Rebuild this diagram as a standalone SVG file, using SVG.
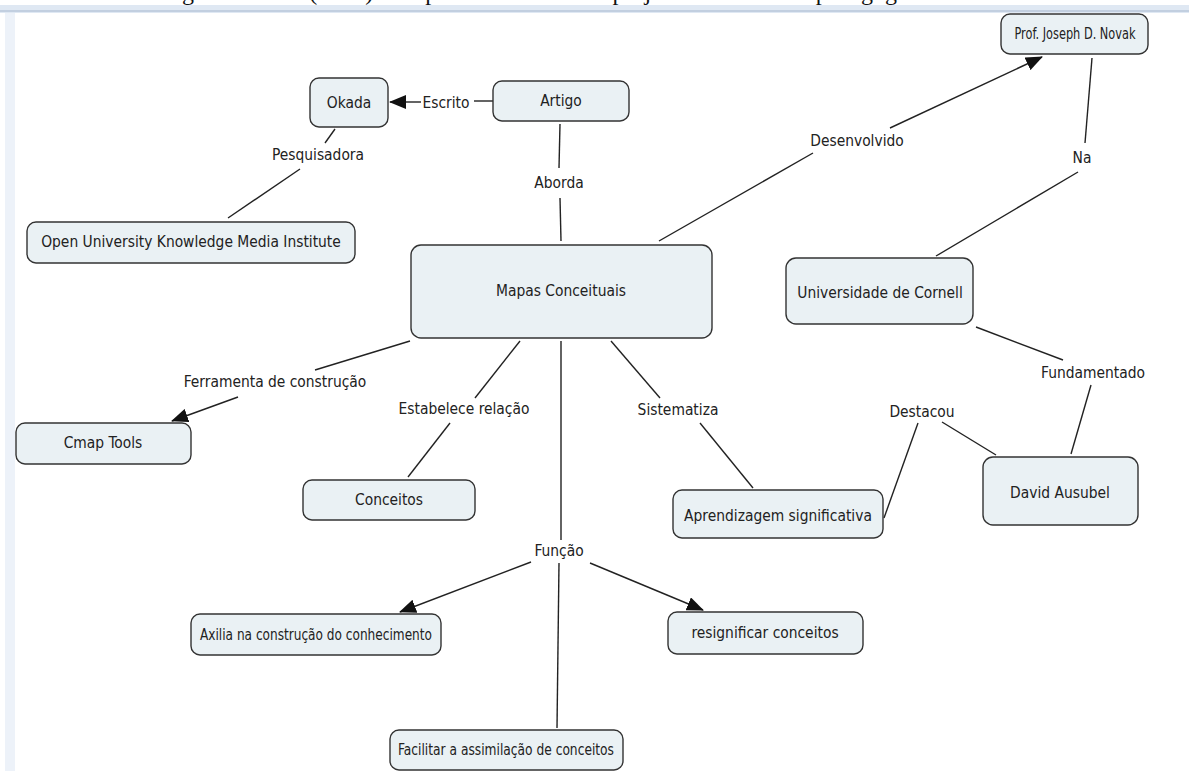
<svg xmlns="http://www.w3.org/2000/svg" width="1189" height="771" viewBox="0 0 1189 771">
<style>
.n rect{fill:#eaf1f4;stroke:#333;stroke-width:1.4}
text{font-family:"DejaVu Sans Condensed","DejaVu Sans",sans-serif;font-size:15.4px;fill:#222;text-anchor:middle}
.c line{stroke:#222;stroke-width:1.4}
.top{font-family:"Liberation Serif",serif;font-size:24px;fill:#111;text-anchor:start}
</style>
<defs>
<marker id="ah" markerUnits="userSpaceOnUse" markerWidth="18" markerHeight="14" refX="16" refY="7" orient="auto">
<path d="M0,0 L17,7 L0,14 z" fill="#111"/>
</marker>
</defs>
<rect width="1189" height="771" fill="#fff"/>
<text class="top" x="30" y="0">referente ao artigo de Okada (2008) - Mapas conceituais em projetos e atividades pedagógicas</text>
<rect x="0" y="5" width="1189" height="8" fill="#dfe8f3"/>
<line x1="0" y1="11" x2="1189" y2="11" stroke="#b9c7da" stroke-width="1.5"/>
<rect x="5" y="13" width="10" height="758" fill="#edf2f9"/>

<g class="c">
<line x1="493" y1="101" x2="474" y2="101"/>
<line x1="421" y1="102" x2="390" y2="102" marker-end="url(#ah)"/>
<line x1="335" y1="129" x2="325" y2="143"/>
<line x1="300" y1="169" x2="228" y2="218"/>
<line x1="560" y1="124" x2="559" y2="168"/>
<line x1="560" y1="198" x2="561" y2="241"/>
<line x1="659" y1="241" x2="813" y2="153"/>
<line x1="890" y1="128" x2="1042" y2="57" marker-end="url(#ah)"/>
<line x1="1092" y1="58" x2="1085" y2="143"/>
<line x1="1078" y1="172" x2="936" y2="256"/>
<line x1="976" y1="327" x2="1063" y2="360"/>
<line x1="1091" y1="385" x2="1071" y2="454"/>
<line x1="996" y1="455" x2="942" y2="422"/>
<line x1="918" y1="423" x2="884" y2="518"/>
<line x1="410" y1="341" x2="315" y2="370"/>
<line x1="238" y1="397" x2="172" y2="421" marker-end="url(#ah)"/>
<line x1="520" y1="341" x2="475" y2="398"/>
<line x1="450" y1="423" x2="408" y2="477"/>
<line x1="611" y1="341" x2="660" y2="398"/>
<line x1="700" y1="423" x2="753" y2="488"/>
<line x1="561" y1="341" x2="561" y2="540"/>
<line x1="531" y1="562" x2="400" y2="612" marker-end="url(#ah)"/>
<line x1="590" y1="563" x2="703" y2="610" marker-end="url(#ah)"/>
<line x1="559" y1="563" x2="557" y2="728"/>
<text x="446" y="108">Escrito</text>
<text x="318" y="160">Pesquisadora</text>
<text x="559" y="188">Aborda</text>
<text x="857" y="146">Desenvolvido</text>
<text x="1082" y="163">Na</text>
<text x="1093" y="378">Fundamentado</text>
<text x="922" y="417">Destacou</text>
<text x="275" y="387">Ferramenta de construção</text>
<text x="464" y="414">Estabelece relação</text>
<text x="678" y="415">Sistematiza</text>
<text x="559" y="556">Função</text>
</g>

<g id="novak" class="n"><rect x="1001" y="14" width="147" height="40" rx="9"/><text x="1075" y="39" textLength="121" lengthAdjust="spacingAndGlyphs">Prof. Joseph D. Novak</text></g>
<g id="okada" class="n"><rect x="310" y="78" width="78" height="49" rx="9"/><text x="349" y="108">Okada</text></g>
<g id="artigo" class="n"><rect x="493" y="81" width="136" height="40" rx="9"/><text x="561" y="106">Artigo</text></g>
<g id="open" class="n"><rect x="27" y="222" width="328" height="41" rx="9"/><text x="191" y="247">Open University Knowledge Media Institute</text></g>
<g id="mapas" class="n"><rect x="411" y="245" width="301" height="93" rx="10"/><text x="561" y="296">Mapas Conceituais</text></g>
<g id="cornell" class="n"><rect x="786" y="258" width="187" height="66" rx="10"/><text x="880" y="298">Universidade de Cornell</text></g>
<g id="cmap" class="n"><rect x="16" y="423" width="175" height="41" rx="9"/><text x="103" y="448">Cmap Tools</text></g>
<g id="conceitos" class="n"><rect x="303" y="480" width="172" height="40" rx="9"/><text x="389" y="505">Conceitos</text></g>
<g id="aprendizagem" class="n"><rect x="673" y="490" width="210" height="48" rx="9"/><text x="778" y="521">Aprendizagem significativa</text></g>
<g id="david" class="n"><rect x="983" y="457" width="155" height="68" rx="10"/><text x="1060" y="498">David Ausubel</text></g>
<g id="axilia" class="n"><rect x="191" y="614" width="250" height="41" rx="9"/><text x="316" y="640" textLength="232" lengthAdjust="spacingAndGlyphs">Axilia na construção do conhecimento</text></g>
<g id="resignificar" class="n"><rect x="668" y="612" width="195" height="42" rx="9"/><text x="765" y="638">resignificar conceitos</text></g>
<g id="facilitar" class="n"><rect x="390" y="730" width="233" height="40" rx="9"/><text x="506" y="755" textLength="216" lengthAdjust="spacingAndGlyphs">Facilitar a assimilação de conceitos</text></g>
</svg>
